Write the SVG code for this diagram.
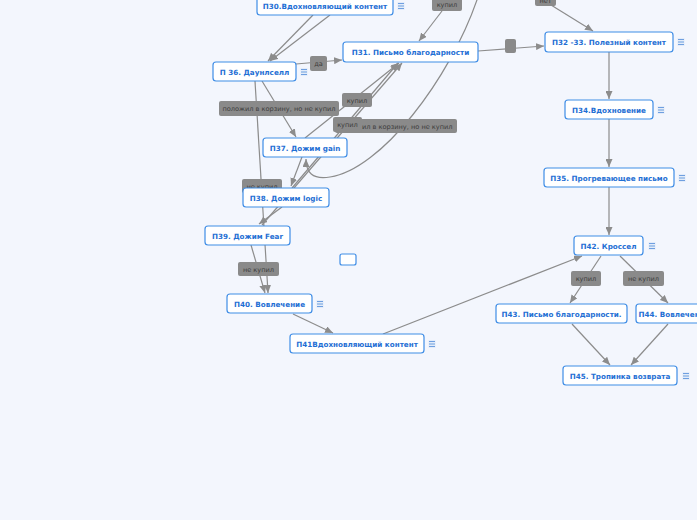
<svg xmlns="http://www.w3.org/2000/svg" width="697" height="520" viewBox="0 0 697 520">
<defs>
<marker id="ah" markerUnits="userSpaceOnUse" markerWidth="8" markerHeight="7" refX="8" refY="3.5" orient="auto">
<path d="M0,0 L8,3.5 L0,7 z" fill="#8c8c8c"/>
</marker>
<g id="menu">
<rect x="-3.5" y="-4" width="7" height="8" fill="#e3ecf9"/>
<path d="M-3,-2.5 H3 M-3,0 H3 M-3,2.5 H3" stroke="#6f9fe0" stroke-width="1.2"/>
</g>
</defs>
<style>
.c{fill:none;stroke:#8c8c8c;stroke-width:1.2;marker-end:url(#ah)}
.n rect{fill:#fff;stroke:#3f8de6;stroke-width:1.2}
.n text{font-family:"DejaVu Sans",sans-serif;font-weight:bold;font-size:7.2px;fill:#1f6fd4;text-anchor:middle}
.l rect{fill:#8a8a8a}
.l text{font-family:"DejaVu Sans",sans-serif;font-size:6.6px;fill:#3c3c3c;text-anchor:middle}
</style>
<rect width="697" height="520" fill="#f3f6fd"/>
<g id="connectors">
<path class="c" d="M313,15 L268,61"/>
<path class="c" d="M330,15 L270,61"/>
<path class="c" d="M442,11 L419,41"/>
<path class="c" d="M478,-3 C450,80 380,170 330,177 C312,180 306,172 306,159"/>
<path class="c" d="M478,51 L544,46"/>
<path class="c" d="M551,5 L593,31"/>
<path class="c" d="M609,52 L609,99"/>
<path class="c" d="M609,119 L609,167"/>
<path class="c" d="M609,187 L609,235"/>
<path class="c" d="M601,256 L570,303"/>
<path class="c" d="M620,256 L668,303"/>
<path class="c" d="M572,324 L610,365"/>
<path class="c" d="M668,324 L631,365"/>
<path class="c" d="M383,334 L582,256"/>
<path class="c" d="M293,314 L333,333"/>
<path class="c" d="M251,245 L265,293"/>
<path class="c" d="M255,81 L268,293"/>
<path class="c" d="M262,81 L296,137"/>
<path class="c" d="M296,64 L342,60"/>
<path class="c" d="M302,157 L291,186"/>
<path class="c" d="M305,138 L399,63"/>
<path class="c" d="M292,188 L398,63"/>
<path class="c" d="M262,225 L402,63"/>
<path class="c" d="M282,207 L259,224"/>
</g>
<g id="labels">
<g class="l"><rect x="432" y="-5" width="30" height="16" rx="2"/><text x="447" y="7">купил</text></g>
<g class="l"><rect x="535" y="-6" width="21" height="12" rx="2"/><text x="545.5" y="3">нет</text></g>
<g class="l"><rect x="310" y="56" width="17" height="15" rx="2"/><text x="318.5" y="66">да</text></g>
<g class="l"><rect x="505" y="39" width="11" height="14" rx="2"/></g>
<g class="l"><rect x="219" y="101" width="120" height="15" rx="2"/><text x="279" y="111">положил в корзину, но не купил</text></g>
<g class="l"><rect x="342" y="93" width="30" height="14" rx="2"/><text x="357" y="103">купил</text></g>
<g class="l"><rect x="335" y="119" width="122" height="14" rx="2"/><text x="396" y="129">положил в корзину, но не  купил</text></g>
<g class="l"><rect x="333" y="117" width="29" height="15" rx="2"/><text x="347.5" y="127">купил</text></g>
<g class="l"><rect x="242" y="179" width="40" height="14" rx="2"/><text x="262" y="189">не купил</text></g>
<g class="l"><rect x="238" y="262" width="41" height="14" rx="2"/><text x="258.5" y="272">не купил</text></g>
<g class="l"><rect x="571" y="271" width="30" height="15" rx="2"/><text x="586" y="281">купил</text></g>
<g class="l"><rect x="623" y="271" width="41" height="15" rx="2"/><text x="643.5" y="281">не купил</text></g>
</g>
<g id="n30" class="n"><rect x="257" y="-5" width="136" height="20" rx="3"/><text x="325" y="8.5">П30.Вдохновляющий контент</text><use href="#menu" x="401" y="6"/></g>
<g id="n31" class="n"><rect x="343" y="42" width="135" height="20" rx="3"/><text x="410.5" y="55">П31. Письмо благодарности</text></g>
<g id="n32" class="n"><rect x="545" y="32" width="128" height="20" rx="3"/><text x="609" y="45">П32 -33. Полезный контент</text><use href="#menu" x="681" y="42"/></g>
<g id="n34" class="n"><rect x="565" y="100" width="88" height="19" rx="3"/><text x="609" y="112.5">П34.Вдохновение</text><use href="#menu" x="661" y="110"/></g>
<g id="n35" class="n"><rect x="544" y="168" width="130" height="19" rx="3"/><text x="609" y="180.5">П35. Прогревающее письмо</text><use href="#menu" x="682" y="178"/></g>
<g id="n36" class="n"><rect x="213" y="62" width="83" height="19" rx="3"/><text x="254.5" y="74.5">П 36. Даунлселл</text><use href="#menu" x="304" y="72"/></g>
<g id="n37" class="n"><rect x="263" y="138" width="84" height="19" rx="3"/><text x="305" y="150.5">П37. Дожим gain</text></g>
<g id="n38" class="n"><rect x="243" y="188" width="86" height="19" rx="3"/><text x="286" y="200.5">П38. Дожим logic</text></g>
<g id="n39" class="n"><rect x="205" y="226" width="85" height="19" rx="3"/><text x="247.5" y="238.5">П39. Дожим Fear</text></g>
<g id="n40" class="n"><rect x="227" y="294" width="85" height="19" rx="3"/><text x="269.5" y="306.5">П40. Вовлечение</text><use href="#menu" x="320" y="304"/></g>
<g id="n41" class="n"><rect x="290" y="334" width="134" height="19" rx="3"/><text x="357" y="346.5">П41Вдохновляющий контент</text><use href="#menu" x="432" y="344"/></g>
<g id="n42" class="n"><rect x="574" y="236" width="69" height="19" rx="3"/><text x="608.5" y="248.5">П42. Кроссел</text><use href="#menu" x="652" y="246"/></g>
<g id="n43" class="n"><rect x="496" y="304" width="131" height="19" rx="3"/><text x="561.5" y="316.5">П43. Письмо благодарности.</text></g>
<g id="n44" class="n"><rect x="636" y="304" width="76" height="19" rx="3"/><text x="674" y="316.5">П44. Вовлечение</text></g>
<g id="n45" class="n"><rect x="563" y="366" width="114" height="19" rx="3"/><text x="620" y="378.5">П45. Тропинка возврата</text><use href="#menu" x="686" y="376"/></g>
<g id="nEmpty" class="n"><rect x="340" y="254" width="16" height="11" rx="2"/></g>
</svg>
